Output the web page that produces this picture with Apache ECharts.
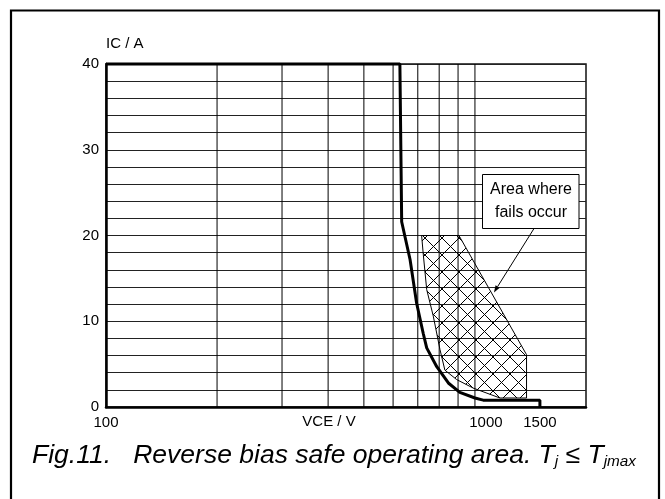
<!DOCTYPE html>
<html><head><meta charset="utf-8">
<script src="https://cdn.jsdelivr.net/npm/echarts@6/dist/echarts.min.js"></script>
<style>html,body{margin:0;padding:0;background:#fff}#c{width:665px;height:499px}</style>
</head><body><div id="c"></div>
<script>
// RBSOA boundary (VCE in V, IC in A)
const curveVce = [100, 626, 633, 667, 695, 724, 740, 788, 847, 910, 1000, 1053, 1500, 1500];
const curveIc  = [40, 40, 21.6, 17.2, 12.1, 8.6, 6.9, 4.7, 2.8, 1.7, 1.05, 0.8, 0.8, 0];
// area where fails occur (polygon vertices)
const failVce = [717, 905, 1380, 1380, 1169, 990, 892, 829, 804, 771, 740, 724];
const failIc  = [20, 20, 6.1, 1.05, 1.05, 2.2, 3.2, 4.3, 6.7, 10.6, 13.7, 17.9];
// vertical grid lines
const gridVce = [200, 300, 400, 500, 600, 700, 800, 900, 1000];
// tick labels
const xTickLabels = [100, 1000, 1500];
const yTickLabels = [0, 10, 20, 30, 40];
// annotation arrow (from box to area edge)
const arrowFrom = [1448, 20.86];
const arrowTo = [1126, 13.36];

const FONT = '"Liberation Sans", Arial, sans-serif';
const chart = echarts.init(document.getElementById('c'), null, {renderer: 'canvas'});

const hc = document.createElement('canvas');
hc.width = 17; hc.height = 17;
const g = hc.getContext('2d');
g.strokeStyle = '#000'; g.lineWidth = 1;
g.beginPath(); g.moveTo(0, 0); g.lineTo(17, 17); g.moveTo(17, 0); g.lineTo(0, 17); g.stroke();
const hatch = {image: hc, repeat: 'repeat'};

chart.setOption({
  animation: false,
  backgroundColor: '#fff',
  grid: {left: 106, right: 79, top: 64, bottom: 92, show: true, borderColor: '#111', borderWidth: 1.5, backgroundColor: 'transparent'},
  xAxis: {
    type: 'log', logBase: 10, min: 100, max: 2000,
    axisLine: {show: true, lineStyle: {color: '#000', width: 2.5}},
    axisTick: {show: false},
    splitLine: {show: false},
    minorSplitLine: {show: false},
    axisLabel: {
      customValues: xTickLabels, margin: 8, color: '#000', fontFamily: FONT, fontSize: 15,
      formatter: v => (Math.round(v) === 1000 ? '{r|1000}' : String(Math.round(v))),
      rich: {r: {padding: [0, 0, 0, 22], fontSize: 15, fontFamily: FONT, color: '#000'}}
    },
    name: 'VCE / V', nameLocation: 'middle', nameGap: 15, nameMoveOverlap: false,
    nameTextStyle: {color: '#000', fontFamily: FONT, fontSize: 15, verticalAlign: 'middle', padding: [0, 34, 0, 0]}
  },
  yAxis: {
    type: 'value', min: 0, max: 40, interval: 2,
    axisLine: {show: true, lineStyle: {color: '#000', width: 2.5}},
    axisTick: {show: false},
    splitLine: {show: true, lineStyle: {color: '#222', width: 1}},
    axisLabel: {
      margin: 7, color: '#000', fontFamily: FONT, fontSize: 15,
      formatter: v => (yTickLabels.indexOf(v) >= 0 ? String(v) : '')
    },
    name: 'IC / A', nameLocation: 'end', nameGap: 20,
    nameTextStyle: {color: '#000', fontFamily: FONT, fontSize: 15, align: 'left', verticalAlign: 'middle'}
  },
  series: [
    {
      type: 'custom', z: 1, silent: true,
      data: gridVce.map(v => [v]),
      encode: {x: 0},
      renderItem: (params, api) => {
        const v = api.value(0);
        const p = api.coord([v, 0]);
        const q = api.coord([v, 40]);
        return {type: 'line', shape: {x1: p[0], y1: p[1], x2: q[0], y2: q[1]}, style: {stroke: '#000', lineWidth: 1}};
      }
    },
    {
      type: 'custom', z: 3, silent: true,
      data: failVce.map((v, i) => [v, failIc[i]]),
      encode: {x: 0, y: 1},
      renderItem: (params, api) => {
        if (params.dataIndex !== 0) return null;
        const pts = failVce.map((v, i) => api.coord([v, failIc[i]]));
        return {type: 'polygon', shape: {points: pts}, style: {fill: hatch, stroke: '#000', lineWidth: 1}};
      }
    },
    {
      type: 'line', z: 5, silent: true, clip: false,
      data: curveVce.map((v, i) => [v, curveIc[i]]),
      showSymbol: false, symbol: 'none',
      lineStyle: {color: '#000', width: 3}
    },
    {
      type: 'custom', z: 20, silent: true, clip: false,
      data: [[arrowFrom[0], arrowFrom[1], arrowTo[0], arrowTo[1]]],
      encode: {x: [0, 2], y: [1, 3]},
      renderItem: (params, api) => {
        const a = api.coord([api.value(0), api.value(1)]);
        const b = api.coord([api.value(2), api.value(3)]);
        const dx = b[0] - a[0], dy = b[1] - a[1];
        const len = Math.sqrt(dx * dx + dy * dy);
        const ux = dx / len, uy = dy / len;
        const hl = 7, hw = 2.5;
        const bx = b[0] - ux * hl, by = b[1] - uy * hl;
        return {type: 'group', children: [
          {type: 'line', shape: {x1: a[0], y1: a[1], x2: bx, y2: by}, style: {stroke: '#000', lineWidth: 1}},
          {type: 'polygon', shape: {points: [[b[0], b[1]], [bx - uy * hw, by + ux * hw], [bx + uy * hw, by - ux * hw]]}, style: {fill: '#000'}}
        ]};
      }
    }
  ],
  graphic: [
    {type: 'rect', z: 100, shape: {x: 11, y: 10.5, width: 648, height: 520}, style: {fill: 'none', stroke: '#000', lineWidth: 2.2}},
    {type: 'rect', z: 100, shape: {x: 482.5, y: 174.5, width: 96.5, height: 54}, style: {fill: '#fff', stroke: '#000', lineWidth: 1}},
    {type: 'text', z: 101, x: 531, y: 201.5, style: {text: 'Area where\nfails occur', fill: '#000', font: '16px ' + FONT, align: 'center', verticalAlign: 'middle', lineHeight: 23}},
    {type: 'text', z: 101, x: 32, y: 456, scaleX: 1.02, style: {
      text: '{a|Fig.11.   Reverse bias safe operating area. T}{s|j}{a| ≤ T}{s|jmax}',
      align: 'left', verticalAlign: 'middle',
      rich: {
        a: {fontSize: 26, fontStyle: 'italic', fontFamily: FONT, fill: '#000', color: '#000'},
        s: {fontSize: 15, fontStyle: 'italic', fontFamily: FONT, fill: '#000', color: '#000', verticalAlign: 'bottom', lineHeight: 6}
      }
    }}
  ]
});
</script></body></html>
